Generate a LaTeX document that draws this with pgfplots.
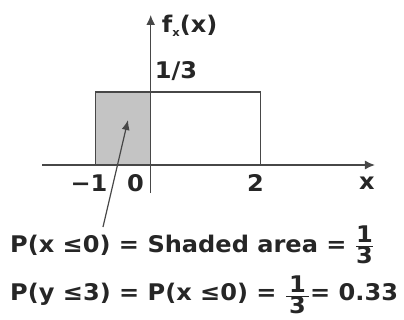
\documentclass[border=0pt]{standalone}
\usepackage{fontspec}
\setmainfont[FakeStretch=1.05]{DejaVu Sans}
\usepackage{pgfplots}
\pgfplotsset{compat=1.18}
\usetikzlibrary{arrows.meta}
\definecolor{ink}{HTML}{262626}
\definecolor{shade}{HTML}{C4C4C4}
\newcommand{\third}{$\frac{\mbox{1}}{\mbox{3}}$}
\begin{document}
\begin{tikzpicture}[x=1bp,y=1bp,font=\bfseries\fontsize{23}{27}\selectfont,text=ink]
\begin{axis}[
  at={(0,0)}, anchor=origin,
  x=55bp, y=219bp,
  xmin=-1.976, xmax=4.078, ymin=-0.128, ymax=0.685,
  axis lines=middle, axis on top,
  xtick=\empty, ytick=\empty,
  axis line style={line width=1.5bp, draw=ink!85, -{Latex[length=10bp,width=9bp]}},
  clip=false]
% uniform density on [-1,2], height 1/3; the part x<=0 is shaded
\addplot[draw=none, fill=shade] coordinates {(-1,0) (-1,0.3333) (0,0.3333) (0,0)} \closedcycle;
\addplot[ink!85, line width=1.3bp] coordinates {(-1,0) (-1,0.3333) (2,0.3333) (2,0)};
\end{axis}
% axis annotations
\node[anchor=west, inner sep=0pt] at (4,93.5) {1/3};
\node[anchor=west, inner sep=0pt] at (11,139) {f\raisebox{-0.3ex}{\fontsize{11}{12}\selectfont x}(x)};
\node at (-61.7,-18) {−1};
\node at (-15.2,-18) {0};
\node at (104.8,-18) {2};
\node at (216.3,-18) {x};
\draw[ink!85, line width=1.2bp, -{Latex[length=10bp,width=8bp]}] (-47.7,-62) -- (-22.7,45);
% probability statements
\node[anchor=base west, inner sep=0pt] at (-140.7,-87) {P(x ≤0) = Shaded area = \third};
\node[anchor=base west, inner sep=0pt] at (-140.7,-135) {P(y ≤3) = P(x ≤0) = \raisebox{-2.5bp}{$\frac{\mbox{\hspace{3bp}1\hspace{3bp}}}{\mbox{3}}$}= 0.33};
\pgfresetboundingbox
\useasboundingbox (-150.7,-155) rectangle (253.3,165);
\end{tikzpicture}
\end{document}
